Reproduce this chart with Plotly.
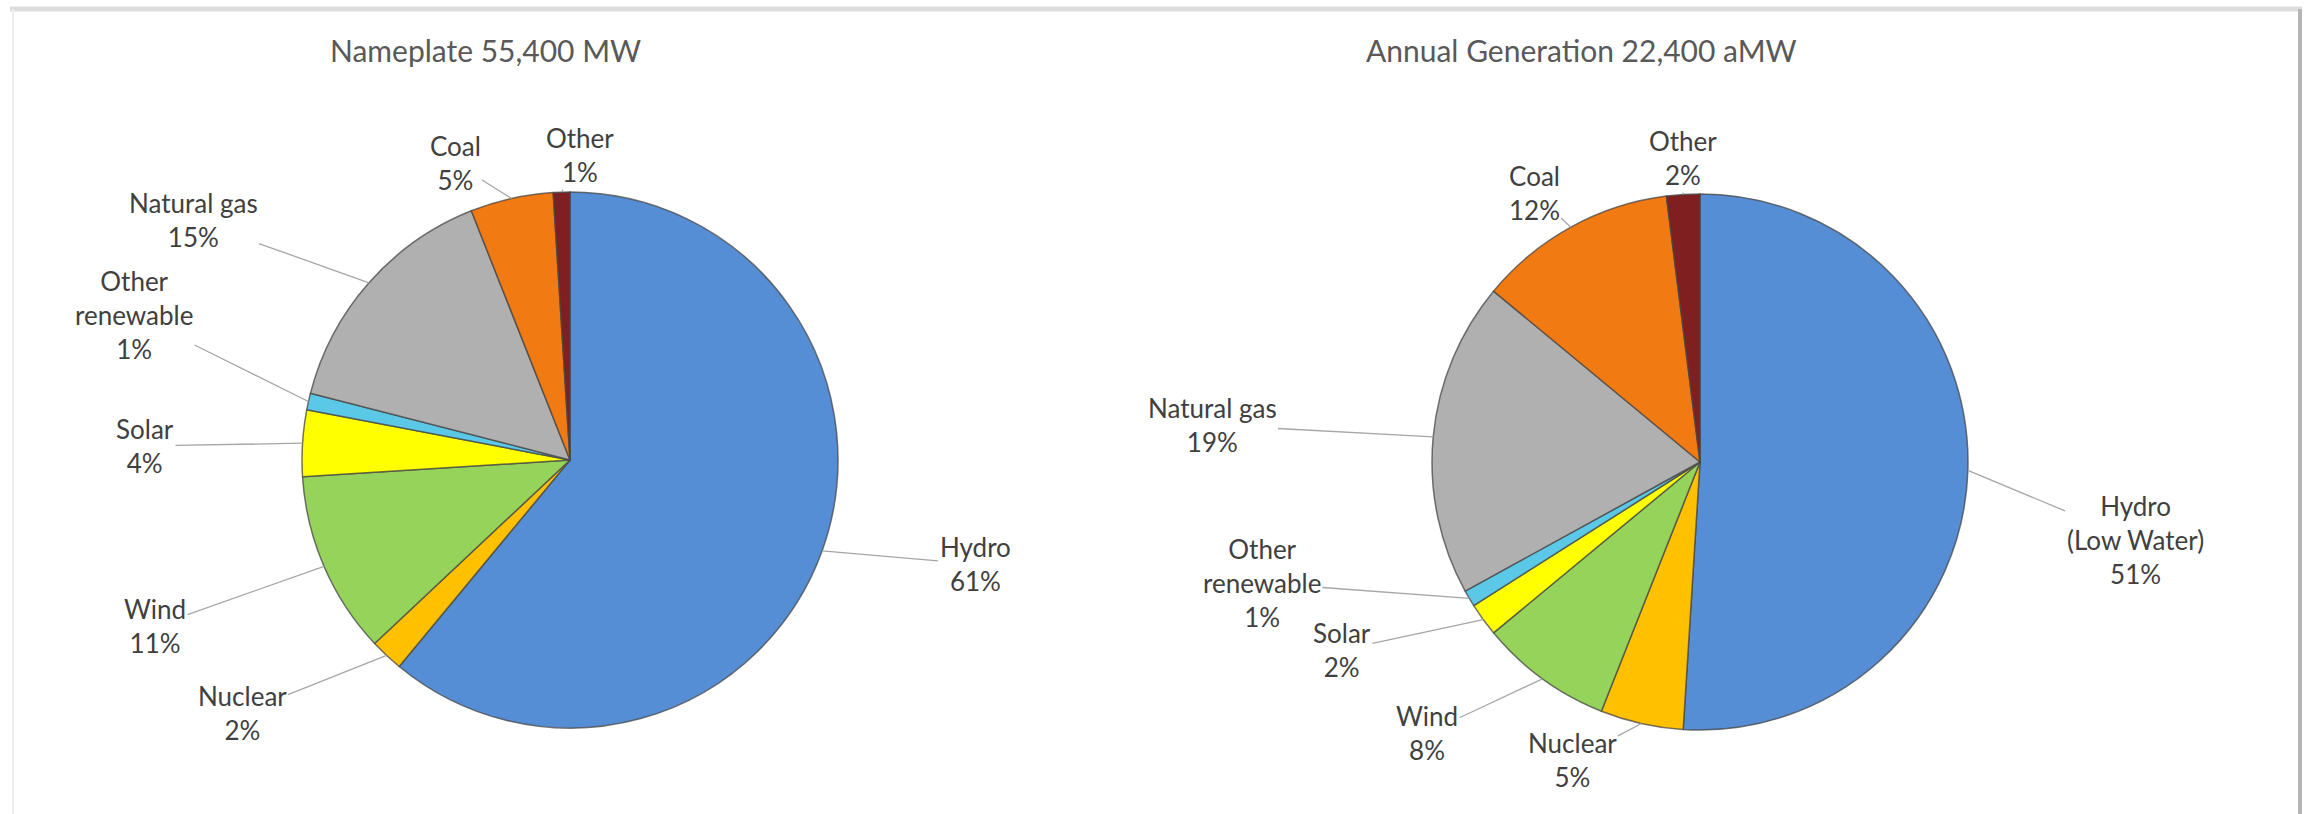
import numpy as np
import plotly.graph_objects as go

W, H = 2313, 814

# ---- data ----
categories = ["Hydro", "Nuclear", "Wind", "Solar", "Other renewable", "Natural gas", "Coal", "Other"]
left_names = ["Hydro", "Nuclear", "Wind", "Solar", "Other<br>renewable", "Natural gas", "Coal", "Other"]
right_names = ["Hydro<br>(Low Water)", "Nuclear", "Wind", "Solar", "Other<br>renewable", "Natural gas", "Coal", "Other"]
nameplate_pct = [61, 2, 11, 4, 1, 15, 5, 1]
generation_pct = [51, 5, 8, 2, 1, 19, 12, 2]
left_title = "Nameplate 55,400 MW"
right_title = "Annual Generation 22,400 aMW"

# ---- styling / layout ----
colors = ["#558ED5", "#FFC000", "#96D35A", "#FFFF00", "#5BC8E8", "#B0B0B0", "#F27A12", "#7F1F1F"]
R = 268
left_center = (570, 460)
right_center = (1700, 462)
left_label_pos = [(975, 564), (242, 713), (155, 626), (145, 446), (134, 315), (193, 220), (455, 163), (580, 155)]
right_label_pos = [(2135, 540), (1572, 760), (1427, 733), (1342, 650), (1262, 583), (1212, 425), (1534, 193), (1683, 158)]
label_font = dict(family="Lato, Carlito, sans-serif", size=26, color="#404040")
title_font = dict(family="Lato, Carlito, sans-serif", size=30, color="#595959")

fig = go.Figure()
annotations = []


def add_pie(values, names, center, label_pos):
    cx, cy = center
    fig.add_trace(go.Pie(
        labels=categories, values=values, sort=False, direction="clockwise", rotation=0,
        marker=dict(colors=colors, line=dict(color="rgba(70,70,70,0.75)", width=1.5)),
        textinfo="none", hoverinfo="skip", showlegend=False,
        domain=dict(x=[(cx - R) / W, (cx + R) / W], y=[1 - (cy + R) / H, 1 - (cy - R) / H]),
    ))
    total = float(sum(values))
    cum = np.cumsum([0] + list(values))
    for i, v in enumerate(values):
        mid = (cum[i] + v / 2.0) / total
        th = 2 * np.pi * mid
        tx = cx + R * np.sin(th)
        ty = cy - R * np.cos(th)
        lx, ly = label_pos[i]
        annotations.append(dict(
            x=tx / W, y=1 - ty / H, xref="paper", yref="paper",
            ax=lx - tx, ay=ly - ty, axref="pixel", ayref="pixel",
            text=f"{names[i]}<br>{v}%", showarrow=True, arrowhead=0,
            arrowwidth=1.3, arrowcolor="#A6A6A6", standoff=0,
            font=label_font, align="center",
        ))


add_pie(nameplate_pct, left_names, left_center, left_label_pos)
add_pie(generation_pct, right_names, right_center, right_label_pos)

annotations.append(dict(x=328 / W, y=1 - 50 / H, xref="paper", yref="paper", text=left_title,
                        showarrow=False, xanchor="left", yanchor="middle", font=title_font))
annotations.append(dict(x=1364 / W, y=1 - 50 / H, xref="paper", yref="paper", text=right_title,
                        showarrow=False, xanchor="left", yanchor="middle", font=title_font))

shapes = [
    dict(type="line", xref="paper", yref="paper", x0=10 / W, x1=2302 / W, y0=1 - 9 / H, y1=1 - 9 / H,
         line=dict(color="#DDDDDD", width=5)),
    dict(type="line", xref="paper", yref="paper", x0=2300 / W, x1=2300 / W, y0=0, y1=1 - 9 / H,
         line=dict(color="#B5B5B5", width=4)),
    dict(type="line", xref="paper", yref="paper", x0=13 / W, x1=13 / W, y0=0, y1=1 - 9 / H,
         line=dict(color="#EEEEEE", width=2)),
]

fig.update_layout(
    width=W, height=H, margin=dict(l=0, r=0, t=0, b=0),
    paper_bgcolor="white", plot_bgcolor="white",
    annotations=annotations, shapes=shapes,
)

fig.write_html("out.html")
